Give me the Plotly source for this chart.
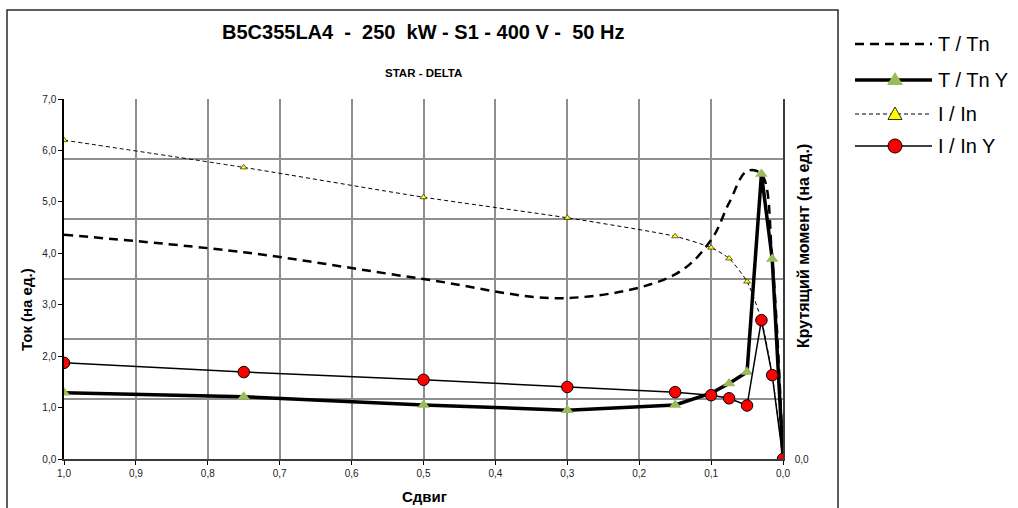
import plotly.graph_objects as go

# ---------------- data ----------------
slip = [1.0, 0.75, 0.5, 0.3, 0.15, 0.1, 0.075, 0.05, 0.03, 0.015, 0.0]
t_tn = [4.36, 4.02, 3.50, 3.13, 3.59, 4.26, 4.98, 5.60, 5.54, 3.89, 0.0]
t_tn_y = [1.29, 1.21, 1.05, 0.95, 1.05, 1.28, 1.47, 1.69, 5.54, 3.89, 0.0]
i_in = [6.20, 5.67, 5.09, 4.69, 4.33, 4.11, 3.90, 3.45, 2.70, 1.63, 0.0]
i_in_y = [1.87, 1.69, 1.54, 1.40, 1.30, 1.24, 1.18, 1.04, 2.70, 1.63, 0.0]

x_tickvals = [1.0, 0.9, 0.8, 0.7, 0.6, 0.5, 0.4, 0.3, 0.2, 0.1, 0.0]
x_ticktext = ["1,0", "0,9", "0,8", "0,7", "0,6", "0,5", "0,4", "0,3", "0,2", "0,1", "0,0"]
y_tickvals = [0, 1, 2, 3, 4, 5, 6, 7]
y_ticktext = ["0,0", "1,0", "2,0", "3,0", "4,0", "5,0", "6,0", "7,0"]
y2_tickvals = [0, 1, 2, 3, 4, 5, 6]
y2_ticktext = ["0,0", "", "", "", "", "", ""]

series_names = ["T / Tn", "T / Tn Y", "I / In", "I / In Y"]
title_text = "B5C355LA4\u00a0\u00a0-\u00a0\u00a0250\u00a0\u00a0kW - S1 - 400 V -\u00a0\u00a050 Hz"
subtitle_text = "STAR - DELTA"
x_title = "Сдвиг"
y_title = "Ток (на ед.)"
y2_title = "Крутящий момент (на ед.)"

# ---------------- layout geometry (pixels) ----------------
W, H = 1018, 508
L, R, T, B = 64, 783, 99, 459
PW, PH = R - L, B - T

def px(x):
    return (x - L) / PW

def py(y):
    return (B - y) / PH

FONT = "Liberation Sans, Arial, sans-serif"
GREEN = "#9BBB59"
GRID = "#8f8f8f"

fig = go.Figure()

fig.add_trace(go.Scatter(
    x=slip, y=t_tn, name=series_names[0], mode="lines",
    line=dict(color="black", width=2.5, dash="9px,6px", shape="spline", smoothing=1.0),
    showlegend=False))
fig.add_trace(go.Scatter(
    x=slip, y=t_tn_y, name=series_names[1], mode="lines+markers",
    line=dict(color="black", width=3.5),
    marker=dict(symbol="triangle-up", size=11, color=GREEN, line=dict(width=0)),
    showlegend=False))
fig.add_trace(go.Scatter(
    x=slip, y=i_in, name=series_names[2], mode="lines+markers",
    line=dict(color="black", width=1, dash="4px,3px", shape="spline", smoothing=0.6),
    marker=dict(symbol="triangle-up", size=6, color="#FFFF00", line=dict(width=0.6, color="black")),
    showlegend=False))
fig.add_trace(go.Scatter(
    x=slip, y=i_in_y, name=series_names[3], mode="lines+markers",
    line=dict(color="black", width=1.5),
    marker=dict(symbol="circle", size=11.5, color="#FF0000", line=dict(width=1, color="black")),
    showlegend=False))

# secondary axis carrier (invisible) so y2 gets drawn
fig.add_trace(go.Scatter(x=[None], y=[None], yaxis="y2", showlegend=False, hoverinfo="skip"))

fig.update_layout(
    width=W, height=H,
    margin=dict(l=L, r=W - R, t=T, b=H - B),
    paper_bgcolor="white", plot_bgcolor="white",
    font=dict(family=FONT, color="black"),
    showlegend=False,
    xaxis=dict(
        range=[1.0, 0.0], tickvals=x_tickvals, ticktext=x_ticktext,
        showgrid=True, gridcolor=GRID, gridwidth=1.5, zeroline=False,
        showline=True, linecolor="#3a3a3a", linewidth=1.5,
        ticks="outside", ticklen=4, tickcolor="black",
        tickfont=dict(size=10, family=FONT, color="#222")),
    yaxis=dict(
        range=[0, 7], tickvals=y_tickvals, ticktext=y_ticktext,
        showgrid=False, zeroline=False,
        showline=True, linecolor="black", linewidth=1.5,
        ticks="outside", ticklen=4, tickcolor="black",
        tickfont=dict(size=10, family=FONT, color="#222")),
    yaxis2=dict(
        range=[0, 6], overlaying="y", side="right",
        tickvals=y2_tickvals, ticktext=y2_ticktext,
        showgrid=True, gridcolor=GRID, gridwidth=2, zeroline=False,
        showline=True, linecolor="#3a3a3a", linewidth=1.5,
        ticks="", ticklabelstandoff=8,
        tickfont=dict(size=10, family=FONT, color="#222")),
)

ann = []
ann.append(dict(text="<b>" + title_text + "</b>", x=px(423), y=py(32), xref="paper", yref="paper",
                xanchor="center", yanchor="middle", showarrow=False, font=dict(size=20, family=FONT)))
ann.append(dict(text="<b>" + subtitle_text + "</b>", x=px(423), y=py(73), xref="paper", yref="paper",
                xanchor="center", yanchor="middle", showarrow=False, font=dict(size=11.5, family=FONT)))
ann.append(dict(text="<b>" + x_title + "</b>", x=px(424), y=py(496), xref="paper", yref="paper",
                xanchor="center", yanchor="middle", showarrow=False, font=dict(size=15, family=FONT)))
ann.append(dict(text="<b>" + y_title + "</b>", x=px(26), y=py(310), xref="paper", yref="paper",
                xanchor="center", yanchor="middle", showarrow=False, textangle=-90,
                font=dict(size=15, family=FONT)))
ann.append(dict(text="<b>" + y2_title + "</b>", x=px(803), y=py(246), xref="paper", yref="paper",
                xanchor="center", yanchor="middle", showarrow=False, textangle=-90,
                font=dict(size=16, family=FONT)))

shapes = []
# outer chart frame
shapes.append(dict(type="rect", xref="paper", yref="paper",
                   x0=px(7), x1=px(838), y0=py(520), y1=py(10),
                   line=dict(color="#2a2a2a", width=1.5), fillcolor="rgba(0,0,0,0)", layer="below"))

# manual legend
rows = [44, 80, 114, 146]
lx0, lx1, mx, tx = 855, 932, 895, 936
shapes.append(dict(type="line", xref="paper", yref="paper", x0=px(lx0), x1=px(lx1), y0=py(rows[0]), y1=py(rows[0]),
                   line=dict(color="black", width=2.5, dash="9px,6px")))
shapes.append(dict(type="line", xref="paper", yref="paper", x0=px(lx0), x1=px(lx1), y0=py(rows[1]), y1=py(rows[1]),
                   line=dict(color="black", width=3.5)))
shapes.append(dict(type="path", xref="paper", yref="paper",
                   path="M %f,%f L %f,%f L %f,%f Z" % (px(mx - 8), py(rows[1] + 5), px(mx + 8), py(rows[1] + 5),
                                                      px(mx), py(rows[1] - 8)),
                   fillcolor=GREEN, line=dict(width=0)))
shapes.append(dict(type="line", xref="paper", yref="paper", x0=px(lx0), x1=px(lx1), y0=py(rows[2]), y1=py(rows[2]),
                   line=dict(color="black", width=1, dash="4px,3px")))
shapes.append(dict(type="path", xref="paper", yref="paper",
                   path="M %f,%f L %f,%f L %f,%f Z" % (px(mx - 7), py(rows[2] + 5.5), px(mx + 7), py(rows[2] + 5.5),
                                                      px(mx), py(rows[2] - 7)),
                   fillcolor="#FFFF00", line=dict(width=0.8, color="black")))
shapes.append(dict(type="line", xref="paper", yref="paper", x0=px(lx0), x1=px(lx1), y0=py(rows[3]), y1=py(rows[3]),
                   line=dict(color="black", width=1.5)))
shapes.append(dict(type="circle", xref="paper", yref="paper",
                   x0=px(mx - 7), x1=px(mx + 7), y0=py(rows[3] + 7), y1=py(rows[3] - 7),
                   fillcolor="#FF0000", line=dict(width=1, color="black")))
for name, ry in zip(series_names, rows):
    ann.append(dict(text=name, x=px(tx), y=py(ry), xref="paper", yref="paper",
                    xanchor="left", yanchor="middle", showarrow=False, font=dict(size=20, family=FONT)))

fig.update_layout(annotations=ann, shapes=shapes)
fig.write_html("out.html",
               config={"displayModeBar": False},
               post_script="document.body.style.margin='0';document.body.style.overflow='hidden';")
